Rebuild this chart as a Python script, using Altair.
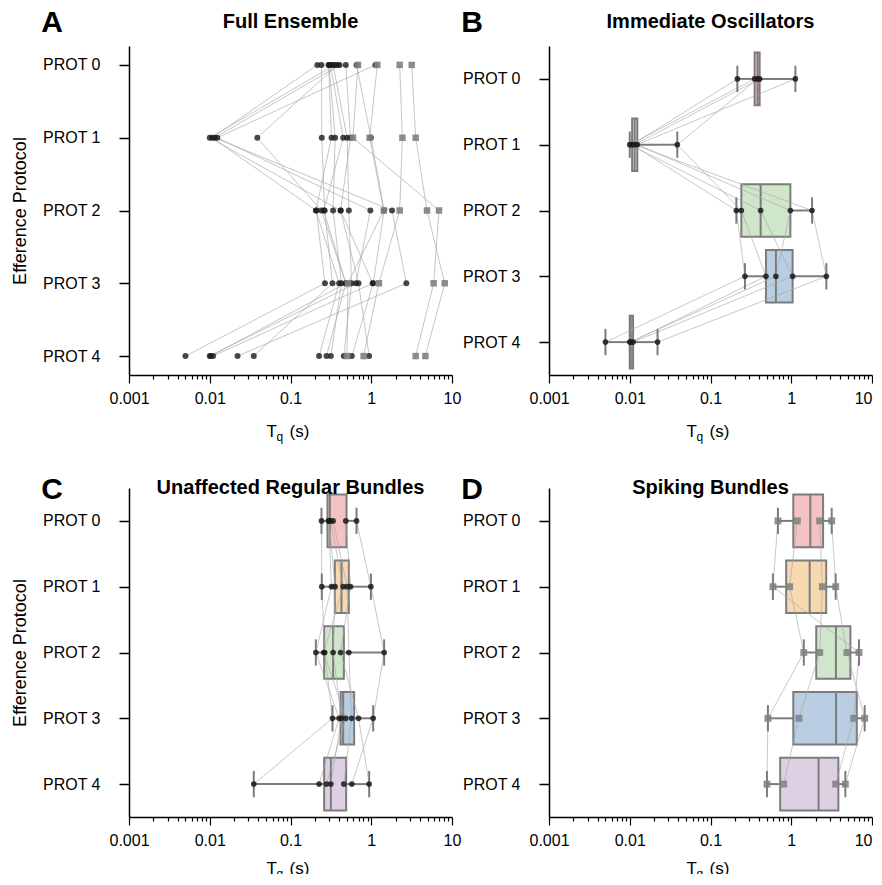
import altair as alt
import pandas as pd
import numpy as np

FONT = "Liberation Sans"
protocols = ["PROT 0", "PROT 1", "PROT 2", "PROT 3", "PROT 4"]

# T_q (s) of each bundle at PROT 0..4
io_bundles = [
    [0.383, 0.0388, 0.241, 0.486, 0.0103],
    [0.215, 0.0107, 0.209, 0.267, 0.0050],
    [0.352, 0.0100, 0.418, 1.040, 0.0110],
    [0.406, 0.0115, 1.810, 2.720, 0.0221],
    [1.125, 0.0124, 0.975, 0.646, 0.0100],
]
reg_bundles = [
    [0.242, 0.244, 0.265, 0.331, 0.0351],
    [0.296, 0.322, 0.206, 0.400, 0.226],
    [0.300, 0.357, 0.337, 0.428, 0.316],
    [0.313, 0.449, 0.258, 0.484, 0.279],
    [0.337, 0.503, 0.528, 0.570, 0.457],
    [0.484, 0.554, 0.417, 0.696, 0.942],
    [0.657, 0.990, 1.445, 1.056, 0.575],
]
spk_bundles = [
    [0.684, 0.593, 6.90, 5.93, 3.55],
    [1.19, 0.955, 1.43, 0.514, 0.500],
    [2.25, 2.43, 2.25, 1.245, 0.805],
    [3.17, 3.55, 4.90, 8.12, 4.68],
]

# box statistics (quartiles) per protocol
io_q1 = [0.352, 0.0107, 0.241, 0.486, 0.0100]
io_med = [0.383, 0.0115, 0.418, 0.646, 0.0103]
io_q3 = [0.406, 0.0124, 0.975, 1.040, 0.0110]
reg_q1 = [0.287, 0.354, 0.261, 0.417, 0.261]
reg_med = [0.307, 0.428, 0.337, 0.449, 0.316]
reg_q3 = [0.494, 0.528, 0.458, 0.614, 0.489]
spk_q1 = [1.06, 0.865, 2.04, 1.06, 0.729]
spk_med = [1.72, 1.69, 3.575, 3.59, 2.18]
spk_q3 = [2.48, 2.71, 5.40, 6.48, 3.83]

box_fills = ["#f4c2c2", "#f6d9b1", "#cfe6cb", "#b9cee2", "#ddd0e3"]

tick_values = [m * 10.0 ** k for k in range(-3, 1) for m in range(1, 10)] + [10.0]

W, H = 323, 329
GRAY = "#7c7c7c"
LINE = "#a8a8a8"


def long_df(bundles, tag):
    rows = []
    for b, vals in enumerate(bundles):
        for p, v in enumerate(vals):
            rows.append({"bundle": f"{tag}{b}", "prot": p, "value": v})
    return pd.DataFrame(rows)


def box_df(bundles, q1, med, q3):
    arr = np.array(bundles)
    df = pd.DataFrame({"prot": list(range(5)), "q1": q1, "med": med, "q3": q3,
                       "lo": arr.min(axis=0), "hi": arr.max(axis=0), "fill": box_fills})
    df["ylo"] = df["prot"] - 0.4
    df["yhi"] = df["prot"] + 0.4
    df["clo"] = df["prot"] - 0.2
    df["chi"] = df["prot"] + 0.2
    return df


MAJOR = "abs(log(datum.value)/LN10 - round(log(datum.value)/LN10)) < 0.000001"
xscale = alt.Scale(type="log", domain=[0.001, 10], nice=False)


def make_xaxis(right_edge):
    align = "center"
    if right_edge:
        align = {"condition": {"test": "datum.value >= 9.99", "value": "right"},
                 "value": "center"}
    return alt.Axis(values=tick_values,
                    labelExpr=f"{MAJOR} ? format(datum.value, '~g') : ''",
                    tickSize={"condition": {"test": MAJOR, "value": 8}, "value": 4},
                    title=None, grid=False, labelFontSize=16, labelFont=FONT,
                    labelColor="black", labelPadding=7, labelOverlap=False,
                    labelFlush=False, labelAlign=align,
                    domainColor="black", domainWidth=1.5,
                    tickColor="black", tickWidth=1.2)


def yaxis(title):
    kw = dict(values=[0, 1, 2, 3, 4], labelExpr="'PROT ' + datum.value",
              grid=False, labelFontSize=16, labelFont=FONT, labelColor="black",
              labelPadding=19, tickSize=10, tickWidth=1.5, tickColor="black",
              domainColor="black", domainWidth=1.5)
    if title:
        return alt.Axis(title=title, titleFontSize=18, titleFont=FONT,
                        titleFontWeight="normal", titleColor="black",
                        titlePadding=13, **kw)
    return alt.Axis(title=None, **kw)


def common_text(letter, title, title_y, letter_y, xlab_y):
    df = pd.DataFrame({"t": [letter], "title": [title],
                       "a": ["T"], "b": ["q"], "c": ["(s)"]})
    base = alt.Chart(df)
    let = base.mark_text(fontSize=30, fontWeight="bold", font=FONT,
                         align="center", baseline="top", color="black").encode(
        text="t:N", x=alt.value(-77), y=alt.value(letter_y))
    ttl = base.mark_text(fontSize=20, fontWeight="bold", font=FONT,
                         align="center", baseline="middle", color="black").encode(
        text="title:N", x=alt.value(W / 2), y=alt.value(title_y))
    x0 = W / 2 - 24
    t1 = base.mark_text(fontSize=17, font=FONT, align="left",
                        baseline="middle", color="black").encode(
        text="a:N", x=alt.value(x0), y=alt.value(xlab_y))
    t2 = base.mark_text(fontSize=12, font=FONT, align="left",
                        baseline="middle", color="black").encode(
        text="b:N", x=alt.value(x0 + 10), y=alt.value(xlab_y + 5))
    t3 = base.mark_text(fontSize=17, font=FONT, align="left",
                        baseline="middle", color="black").encode(
        text="c:N", x=alt.value(x0 + 23), y=alt.value(xlab_y))
    return [let, ttl, t1, t2, t3]


def full_panel(ytitle):
    ydom = [-0.26, 4.26]
    ys = alt.Scale(domain=ydom, reverse=True, nice=False, zero=False)
    ya = yaxis(ytitle)
    xa = make_xaxis(False)
    circ = pd.concat([long_df(io_bundles, "io"), long_df(reg_bundles, "rg")])
    sq = long_df(spk_bundles, "sp")
    alld = pd.concat([circ, sq])
    lines = alt.Chart(alld).mark_line(color=LINE, strokeWidth=0.9, opacity=0.75).encode(
        x=alt.X("value:Q", scale=xscale, axis=xa),
        y=alt.Y("prot:Q", scale=ys, axis=ya),
        detail="bundle:N", order="prot:Q")
    pts_c = alt.Chart(circ).mark_point(filled=True, shape="circle", size=36,
                                       color="#1a1a1a", opacity=0.8).encode(
        x=alt.X("value:Q", scale=xscale, axis=xa),
        y=alt.Y("prot:Q", scale=ys, axis=ya))
    pts_s = alt.Chart(sq).mark_point(filled=True, shape="square", size=42,
                                     color="#808080", opacity=0.9).encode(
        x=alt.X("value:Q", scale=xscale, axis=xa),
        y=alt.Y("prot:Q", scale=ys, axis=ya))
    return alt.layer(lines, pts_c, pts_s,
                     *common_text("A", "Full Ensemble", -24, -38, H + 57)).properties(
        width=W, height=H)


def box_panel(bundles, q1, med, q3, title, letter, ytitle, shape, pcolor, psize,
              title_y, letter_y, xlab_y, right_edge):
    ys = alt.Scale(domain=[-0.5, 4.5], reverse=True, nice=False, zero=False)
    ya = yaxis(ytitle)
    xa = make_xaxis(right_edge)
    pdf = long_df(bundles, letter)
    bdf = box_df(bundles, q1, med, q3)
    X = lambda f: alt.X(f, scale=xscale, axis=xa)
    Y = lambda f: alt.Y(f, scale=ys, axis=ya)
    rect = alt.Chart(bdf).mark_rect(stroke=GRAY, strokeWidth=2).encode(
        x=X("q1:Q"), x2="q3:Q", y=Y("ylo:Q"), y2="yhi:Q",
        fill=alt.Fill("fill:N", scale=None))
    medr = alt.Chart(bdf).mark_rule(color=GRAY, strokeWidth=2).encode(
        x=X("med:Q"), y=Y("ylo:Q"), y2="yhi:Q")
    lines = alt.Chart(pdf).mark_line(color=LINE, strokeWidth=0.9, opacity=0.7).encode(
        x=X("value:Q"), y=Y("prot:Q"), detail="bundle:N", order="prot:Q")
    wlo = alt.Chart(bdf).mark_rule(color=GRAY, strokeWidth=2).encode(
        x=X("lo:Q"), x2="q1:Q", y=Y("prot:Q"))
    whi = alt.Chart(bdf).mark_rule(color=GRAY, strokeWidth=2).encode(
        x=X("q3:Q"), x2="hi:Q", y=Y("prot:Q"))
    clo = alt.Chart(bdf).mark_rule(color=GRAY, strokeWidth=2).encode(
        x=X("lo:Q"), y=Y("clo:Q"), y2="chi:Q")
    chi = alt.Chart(bdf).mark_rule(color=GRAY, strokeWidth=2).encode(
        x=X("hi:Q"), y=Y("clo:Q"), y2="chi:Q")
    pts = alt.Chart(pdf).mark_point(filled=True, shape=shape, size=psize,
                                    color=pcolor, opacity=0.85).encode(
        x=X("value:Q"), y=Y("prot:Q"))
    return alt.layer(rect, medr, lines, wlo, whi, clo, chi, pts,
                     *common_text(letter, title, title_y, letter_y, xlab_y)).properties(
        width=W, height=H)


A = full_panel("Efference Protocol")
B = box_panel(io_bundles, io_q1, io_med, io_q3, "Immediate Oscillators", "B", None,
              "circle", "#1a1a1a", 32, -24, -38, H + 57, True)
C = box_panel(reg_bundles, reg_q1, reg_med, reg_q3, "Unaffected Regular Bundles", "C",
              "Efference Protocol", "circle", "#1a1a1a", 32, 0, -13, H + 52, False)
D = box_panel(spk_bundles, spk_q1, spk_med, spk_q3, "Spiking Bundles", "D", None,
              "square", "#808080", 48, 0, -13, H + 52, True)

chart = alt.concat(A, B, C, D, columns=2, spacing={"row": 113, "column": 97},
                   bounds="flush").properties(
    padding={"left": 3, "top": 0, "right": 0, "bottom": -6}
).configure_view(stroke=None)

chart.save("out.html", embed_options={"renderer": "svg", "actions": False})
